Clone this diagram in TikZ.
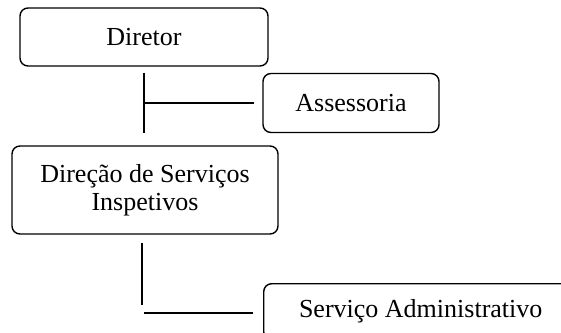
\documentclass[tikz,border=0pt]{standalone}
\usepackage{fontspec}
\setmainfont{Liberation Serif}
\begin{document}
\begin{tikzpicture}[x=1pt,y=-1pt,
  box/.style={draw,line width=1.4pt,rounded corners=8pt,inner sep=0pt,align=center,
    font=\fontsize{26}{28}\selectfont},
  conn/.style={line width=1.6pt}]
\useasboundingbox (0,0) rectangle (561,332);
\clip (0,0) rectangle (561,332);
\node[box,minimum width=248pt,minimum height=58pt] (dir) at (144,37) {Diretor};
\node[box,minimum width=176pt,minimum height=59pt] (ass) at (351,103) {Assessoria};
\node[box,minimum width=266pt,minimum height=88pt] (dsi) at (145,190) {Direção de Serviços\\Inspetivos};
\node[box,minimum width=314pt,minimum height=56pt,anchor=north west] (adm) at (263,283) {Serviço Administrativo};
\draw[conn] ([yshift=-6pt]dir.south) -- ([yshift=12pt]dir.south |- dsi.north);
\draw[conn] ([xshift=-8pt]ass.west) -- ++(-109,0);
\draw[conn] ([xshift=-3pt,yshift=-8pt]dsi.south) -- ++(0,62);
\draw[conn] ([xshift=-10pt]adm.west |- 0,313) -- ++(-109,0);
\end{tikzpicture}
\end{document}
